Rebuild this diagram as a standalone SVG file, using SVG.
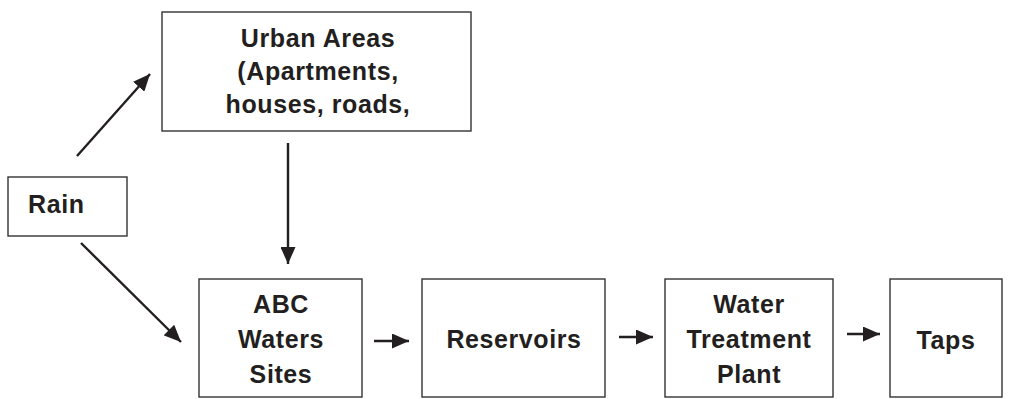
<svg xmlns="http://www.w3.org/2000/svg" width="1016" height="399" viewBox="0 0 1016 399">
<style>
.box{fill:#fff;stroke:#333;stroke-width:1.4}
.t{font-family:"Liberation Sans",Arial,sans-serif;font-weight:bold;font-size:25px;letter-spacing:0.6px;fill:#231f20;text-anchor:middle}
.c{stroke:#231f20;stroke-width:2.4;fill:none;marker-end:url(#ah)}
</style>
<defs>
<marker id="ah" viewBox="0 0 10 10" refX="10" refY="5" markerUnits="userSpaceOnUse" markerWidth="17" markerHeight="15" preserveAspectRatio="none" orient="auto">
<path d="M0,0 L10,5 L0,10 z" fill="#231f20"/>
</marker>
</defs>
<rect width="1016" height="399" fill="#fff"/>
<g id="rain">
<rect class="box" x="8" y="177" width="119" height="59"/>
<text class="t" x="28" y="213" style="text-anchor:start">Rain</text>
</g>
<g id="urban">
<rect class="box" x="162" y="12" width="309" height="119"/>
<text class="t" x="318" y="47">Urban Areas</text>
<text class="t" x="318" y="80">(Apartments,</text>
<text class="t" x="318" y="113">houses, roads,</text>
</g>
<g id="abc">
<rect class="box" x="199" y="279" width="163" height="118"/>
<text class="t" x="281" y="313">ABC</text>
<text class="t" x="281" y="348">Waters</text>
<text class="t" x="281" y="383">Sites</text>
</g>
<g id="reservoirs">
<rect class="box" x="422" y="279" width="183" height="118"/>
<text class="t" x="514" y="348">Reservoirs</text>
</g>
<g id="wtp">
<rect class="box" x="665" y="279" width="168" height="118"/>
<text class="t" x="749" y="313">Water</text>
<text class="t" x="749" y="348">Treatment</text>
<text class="t" x="749" y="383">Plant</text>
</g>
<g id="taps">
<rect class="box" x="890" y="279" width="112" height="118"/>
<text class="t" x="946" y="349">Taps</text>
</g>
<g id="connectors">
<line class="c" x1="77" y1="156" x2="150" y2="74"/>
<line class="c" x1="288" y1="143" x2="288" y2="264"/>
<line class="c" x1="81" y1="243" x2="181" y2="342"/>
<line class="c" x1="374" y1="341" x2="409" y2="341"/>
<line class="c" x1="619" y1="337" x2="653" y2="337"/>
<line class="c" x1="847" y1="334" x2="880" y2="334"/>
</g>
</svg>
